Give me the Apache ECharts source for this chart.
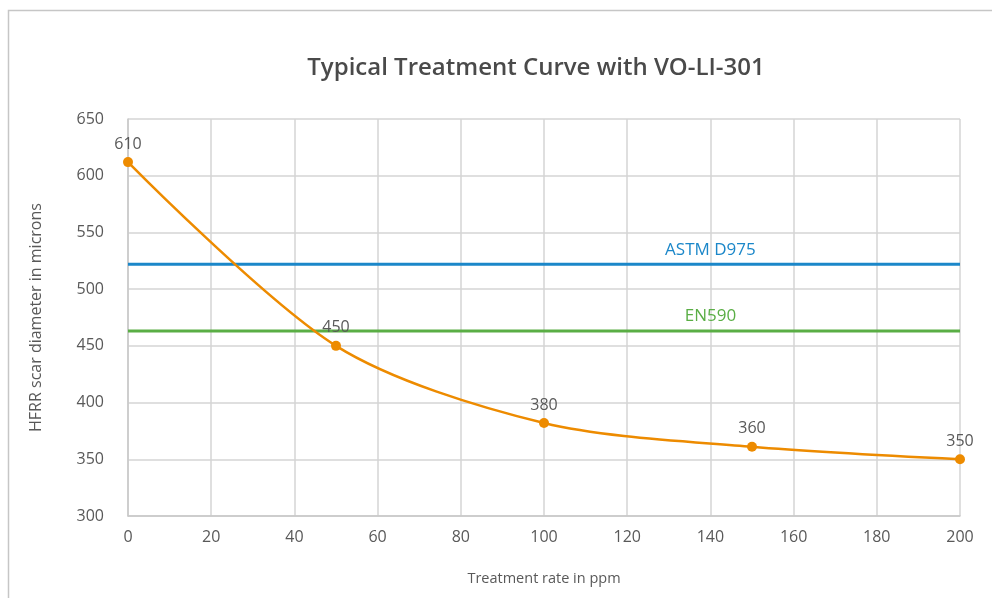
<!DOCTYPE html>
<html>
<head>
<meta charset="utf-8">
<script src="https://cdn.jsdelivr.net/npm/echarts@6/dist/echarts.min.js"></script>
<style>
  html, body { margin: 0; padding: 0; background: #fff; }
  #chart { width: 992px; height: 598px; }
</style>
</head>
<body>
<div id="chart"></div>
<script>
// treatment rate (ppm) and measured scar diameter
const rates = [0, 50, 100, 150, 200];
const diameters = [612, 450, 382, 361, 350];
const pointLabels = ['610', '450', '380', '360', '350'];

// spec limits
const astmLimit = 522;
const en590Limit = 463;
const limitLabelAt = 140;

const xTicks = { min: 0, max: 200, interval: 20 };
const yTicks = { min: 300, max: 650, interval: 50 };

const textColor = '#595959';
const font = 'Open Sans';

const chart = echarts.init(document.getElementById('chart'));

function limitSeries(name, value, color) {
  return {
    name: name,
    type: 'line',
    showSymbol: true,
    symbol: 'circle',
    symbolSize: 0,
    silent: true,
    lineStyle: { width: 3, color: color },
    itemStyle: { color: color },
    label: { show: false },
    data: [
      [xTicks.min, value],
      { value: [limitLabelAt, value],
        label: { show: true, position: 'top', distance: 6, formatter: name,
                 color: color, fontSize: 17, fontFamily: font } },
      [xTicks.max, value]
    ]
  };
}

const option = {
  animation: false,
  graphic: [{
    type: 'rect',
    shape: { x: 8.5, y: 10.5, width: 1000, height: 600 },
    style: { fill: 'none', stroke: '#c6c6c6', lineWidth: 1.5 }
  }],
  title: {
    text: 'Typical Treatment Curve with VO-LI-301',
    left: 531, top: 51, textAlign: 'center',
    textStyle: { fontFamily: font, fontSize: 24, fontWeight: 600, color: '#4a4a4a' }
  },
  grid: { left: 128, right: 32, top: 119, bottom: 82 },
  xAxis: {
    type: 'value',
    min: xTicks.min, max: xTicks.max, interval: xTicks.interval,
    name: 'Treatment rate in ppm',
    nameLocation: 'middle', nameGap: 55,
    nameTextStyle: { color: textColor, fontSize: 14.5, fontFamily: font },
    axisLine: { show: true, lineStyle: { color: '#c8c8c8', width: 1.5 } },
    axisTick: { show: false },
    axisLabel: { color: textColor, fontSize: 16, fontFamily: font, margin: 13 },
    splitLine: { show: true, lineStyle: { color: '#d4d4d4', width: 1.5 } }
  },
  yAxis: {
    type: 'value',
    min: yTicks.min, max: yTicks.max, interval: yTicks.interval,
    name: 'HFRR scar diameter in microns',
    nameLocation: 'middle', nameGap: 84,
    nameTextStyle: { color: textColor, fontSize: 16, fontFamily: font },
    axisLine: { show: true, lineStyle: { color: '#c8c8c8', width: 1.5 } },
    axisTick: { show: false },
    axisLabel: { color: textColor, fontSize: 16, fontFamily: font, margin: 24 },
    splitLine: { show: true, lineStyle: { color: '#d4d4d4', width: 1.5 } }
  },
  series: [
    limitSeries('ASTM D975', astmLimit, '#1b87c9'),
    limitSeries('EN590', en590Limit, '#5aae45'),
    {
      name: 'Treatment',
      type: 'line',
      smooth: 0.3,
      symbol: 'circle',
      symbolSize: 10,
      itemStyle: { color: '#ed8b00' },
      lineStyle: { width: 2.5, color: '#ed8b00' },
      label: {
        show: true, position: 'top', distance: 5,
        color: textColor, fontSize: 16, fontFamily: font,
        formatter: p => pointLabels[p.dataIndex]
      },
      data: rates.map((r, i) => [r, diameters[i]])
    }
  ]
};

chart.setOption(option);
</script>
</body>
</html>
